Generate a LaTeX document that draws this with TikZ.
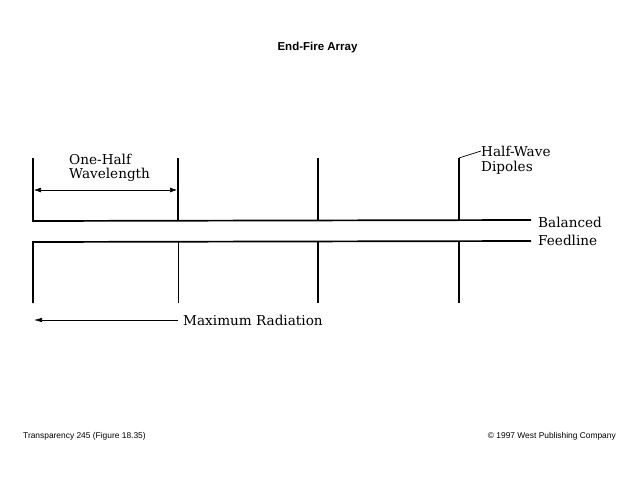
\documentclass[tikz,border=0pt]{standalone}
\usepackage{fontspec}
\setmainfont{DejaVu Serif}
\newfontfamily\headfont{Liberation Sans}
\usetikzlibrary{arrows.meta}
\tikzset{
  dipole/.style={line width=1.7pt},
  thindipole/.style={line width=0.9pt},
  feed/.style={line width=1.7pt},
  dimline/.style={line width=0.6pt, {Latex[length=7pt,width=5pt]}-{Latex[length=7pt,width=5pt]}},
  radline/.style={line width=0.6pt, -{Latex[length=8pt,width=4.5pt]}},
  leader/.style={line width=0.7pt},
  lbl/.style={font=\fontsize{13.6}{15}\selectfont, inner sep=0pt, align=left, anchor=west},
  foot/.style={font=\headfont\fontsize{8.4}{9}\selectfont, inner sep=0pt}
}
\begin{document}
\begin{tikzpicture}[x=1pt, y=-1pt]
   \useasboundingbox (0,0) rectangle (638,479);
   % title and footer
   \node[font=\headfont\bfseries\fontsize{11.5}{12}\selectfont, inner sep=0pt] (title) at (317.5,48) {End-Fire Array};
   \node[foot, anchor=west] (transp) at (23,436) {Transparency 245 (Figure 18.35)};
   \node[foot, anchor=east] (westco) at (616,436) {\textcopyright{} 1997 West Publishing Company};
   % dipole ends
   \foreach \n/\x in {a/33, b/178, c/318, d/459} {
     \coordinate (\n top) at (\x,158);
     \coordinate (\n up) at (\x,221);
     \coordinate (\n low) at (\x,242);
     \coordinate (\n bot) at (\x,303);
   }
   \coordinate (upend) at (531,220);
   \coordinate (lowend) at (531,241);
   % labels
   \node[lbl] (halfwave) at (481,151) {Half-Wave};
   \node[lbl] (dipoles) at (481,168) {Dipoles};
   \node[lbl] (balanced) at (538,222.5) {Balanced};
   \node[lbl] (feedline) at (538,240) {Feedline};
   \node[lbl] (onehalf) at (69,159) {One-Half};
   \node[lbl] (wavelen) at (69,175) {Wavelength};
   \node[lbl] (maxrad) at (183,320) {Maximum Radiation};
   % feedline and dipoles
   \draw[feed] (atop) -- (aup) -- (upend);
   \draw[feed] (abot) -- (alow) -- (lowend);
   \draw[dipole] (bup) -- (btop);
   \draw[thindipole] (blow) -- (bbot);
   \foreach \n in {c,d} {
     \draw[dipole] (\n up) -- (\n top);
     \draw[dipole] (\n low) -- (\n bot);
   }
   \draw[leader] (dtop) -- (halfwave.west);
   % arrows
   \coordinate (dima) at (34,190);
   \coordinate (dimb) at (177,190);
   \draw[dimline] (dima) -- (dimb);
   \coordinate (radfrom) at (178,320);
   \coordinate (radto) at (34,320);
   \draw[radline] (radfrom) -- (radto);
\end{tikzpicture}
\end{document}
